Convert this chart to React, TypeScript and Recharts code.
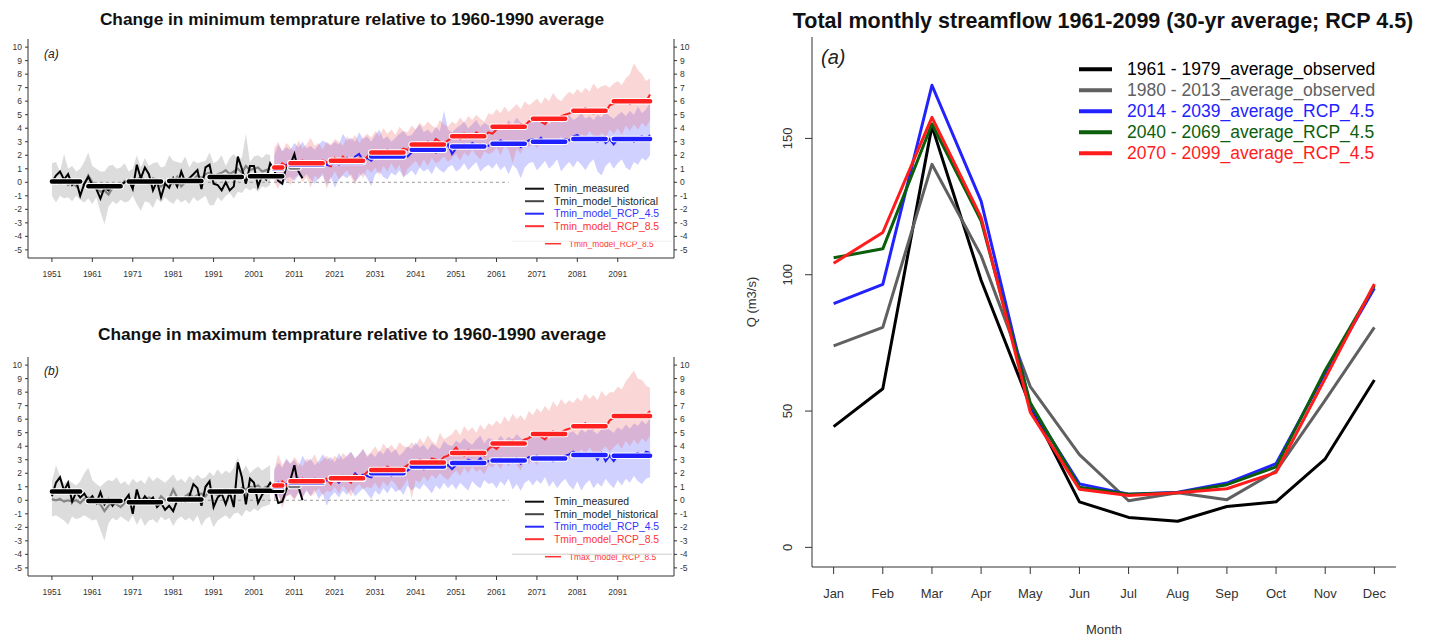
import React from 'react';
import { ComposedChart, LineChart, Line, Area, XAxis, YAxis, ReferenceLine } from 'recharts';

// ---------------- Temperature panels (data) ----------------
const FIRST_YEAR = 1951;
const LAST_YEAR = 2099;
const RCP_START = 2006;
const ZERO_LINE_END = 2064;
const YEAR_TICKS = [1951, 1961, 1971, 1981, 1991, 2001, 2011, 2021, 2031, 2041, 2051, 2061, 2071, 2081, 2091];
const TEMP_TICKS = [-5, -4, -3, -2, -1, 0, 1, 2, 3, 4, 5, 6, 7, 8, 9, 10];

const MEAS_SEG_START = [1951, 1960, 1970, 1980, 1990, 2000];
const MEAS_SEG_END = [1958, 1968, 1978, 1988, 1998, 2008];
const RECENT_SEG_START = [2010];
const RECENT_SEG_END = [2012];
const RCP_SEG_START = [2006, 2010, 2020, 2030, 2040, 2050, 2060, 2070, 2080, 2090];
const RCP_SEG_END = [2008, 2018, 2028, 2038, 2048, 2058, 2068, 2078, 2088, 2099];

// Tmin
const tminMeasured = [
  0.0, 0.5, 0.8, 0.2, 0.6, -0.2, 0.1, -1.0, -0.1, 0.4,
  -0.2, -0.5, -1.2, -0.4, -0.6, -0.2, -0.3, -0.2, 0.0, 0.2,
  -0.5, 1.3, 0.3, 1.1, 0.6, -0.6, 0.1, -1.1, -0.1, -0.4,
  0.3, -0.3, 0.8, 0.0, 0.3, 0.6, 0.9, -0.5, 1.1, 1.3,
  -0.1, -0.2, -0.6, 0.0, -0.6, -0.3, 1.9, 1.0, -0.1, 1.2,
  1.2, -0.3, 0.5, 0.2, 1.4, 0.9, 0.1, -0.1, 1.2, 1.3,
  2.1, 0.8, 0.3,
];
const tminHist = [
  0.0, 0.1, -0.1, 0.2, -0.2, 0.0, -0.3, 0.1, -0.2, 0.5,
  0.0, -0.4, -0.7, -0.6, -0.9, -0.4, -0.2, -0.3, 0.1, 0.0,
  -0.3, 0.2, 0.4, 0.1, -0.1, 0.3, 0.2, -0.3, 0.0, 0.2,
  -0.1, 0.4, -0.3, 0.0, 0.3, 0.2, 0.5, 0.3, 0.6, 0.7,
  0.4, 0.6, 0.7, 0.9, 0.6, 0.8, 1.0, 0.7, 1.2, 0.9,
  1.0, 1.1, 0.8, 0.9, 1.0,
];
const tminHistHi = [
  1.4, 1.5, 0.8, 2.1, 1.0, 1.2, 0.8, 1.0, 1.5, 2.2,
  1.2, 1.0, 0.8, 0.8, 1.2, 1.3, 1.0, 1.1, 1.4, 0.8,
  1.0, 2.0, 1.1, 1.8, 1.2, 1.4, 1.5, 1.1, 1.2, 2.0,
  1.6, 1.5, 1.4, 1.9, 1.1, 1.6, 1.4, 1.5, 1.6, 2.2,
  1.4, 1.6, 2.0, 1.2, 1.8, 2.1, 1.7, 1.8, 3.6, 1.5,
  1.9, 2.0, 1.8, 2.1, 2.0,
];
const tminHistLo = [
  -1.0, -1.5, -1.0, -1.2, -1.1, -1.4, -1.0, -1.3, -1.5, -1.2,
  -1.6, -1.1, -2.2, -3.1, -1.8, -1.4, -1.6, -1.3, -1.5, -1.4,
  -1.0, -1.6, -2.1, -1.4, -1.5, -1.9, -1.2, -1.5, -1.1, -1.4,
  -1.6, -1.2, -1.5, -1.3, -1.6, -1.1, -1.4, -1.2, -1.0, -1.7,
  -1.7, -1.1, -1.4, -1.0, -0.8, -1.2, -0.7, -0.8, -0.4, -0.6,
  -0.4, -0.7, -0.3, -0.4, -0.2,
];
const tmin45 = [
  0.9, 1.2, 1.0, 1.3,
  1.1, 1.4, 1.0, 1.5, 1.3, 1.4, 1.2, 1.3, 1.5, 1.3,
  1.2, 1.6, 1.3, 1.5, 1.8, 1.4, 1.9, 2.1, 1.6, 1.8,
  1.6, 1.9, 1.8, 2.1, 1.9, 2.0, 1.8, 2.2, 2.0, 1.9,
  2.2, 2.5, 2.3, 2.6, 2.4, 2.5, 2.2, 2.6, 2.5, 2.8,
  2.1, 2.5, 2.7, 2.8, 2.6, 2.9, 2.7, 2.8, 2.6, 2.7,
  2.9, 2.8, 3.1, 2.9, 2.8, 3.0, 2.9, 2.6, 2.9, 3.1,
  3.2, 3.0, 3.3, 2.9, 3.0, 3.1, 2.9, 3.0, 3.2, 3.1,
  3.4, 3.5, 3.2, 3.3, 3.1, 3.2, 3.0, 3.3, 2.9, 3.2,
  2.8, 3.2, 3.3, 3.1, 3.2, 3.0, 3.3, 3.4, 3.2, 3.5,
];
const tmin45Hi = [
  2.0, 2.8, 2.3, 2.6,
  2.4, 2.9, 2.6, 3.0, 2.5, 2.7, 2.4, 2.8, 3.1, 2.9,
  2.7, 3.0, 2.8, 3.6, 3.1, 3.3, 3.0, 3.7, 3.2, 3.4,
  3.0, 3.5, 3.9, 3.2, 3.4, 3.0, 3.3, 3.6, 3.8, 3.4,
  3.5, 3.9, 4.3, 3.7, 3.9, 3.6, 4.1, 3.8, 5.3, 3.9,
  3.7, 4.0, 4.2, 4.5, 4.0, 4.3, 4.6, 4.1, 4.4, 4.2,
  4.3, 4.0, 4.4, 4.1, 4.6, 4.3, 4.8, 4.4, 4.2, 4.5,
  4.4, 4.7, 4.5, 4.8, 4.3, 4.6, 4.9, 4.4, 4.7, 5.0,
  4.6, 4.8, 5.1, 4.7, 4.9, 4.6, 5.0, 4.8, 5.2, 4.9,
  4.7, 5.0, 5.2, 4.9, 5.3, 5.0, 5.6, 5.1, 5.4, 5.9,
];
const tmin45Lo = [
  0.2, 0.0, -0.3, 0.3,
  0.4, 0.1, 0.5, 0.3, 0.6, 0.2, -0.1, 0.3, 0.5, -0.2,
  0.4, -0.4, 0.2, 0.5, 0.3, 0.6, 0.0, 0.4, 0.7, 0.3,
  -0.3, 0.6, 0.8, 0.4, 0.2, 0.7, 0.5, 0.9, 0.4, 0.6,
  0.9, 0.5, 1.1, 0.8, 1.0, 0.6, 1.2, 0.9, 0.7, 1.1,
  1.3, 0.8, 1.0, 1.4, 0.9, 1.2, 1.5, 0.8, 1.1, 1.3,
  1.0, 1.4, 0.9, 1.2, 0.6, 1.3, 1.0, 0.3, 1.1, 1.4,
  1.5, 0.9, 1.2, 1.6, 1.0, 1.3, 1.7, 0.8, 1.2, 1.5,
  1.1, 1.6, 1.3, 0.9, 1.4, 1.7, 0.8, 0.5, 1.2, 1.5,
  1.0, 1.4, 1.7, 1.1, 0.9, 1.5, 1.3, 1.8, 1.6, 2.0,
];
const tmin85 = [
  1.3, 1.0, 1.4, 1.2,
  1.3, 1.5, 1.2, 1.6, 1.4, 1.3, 1.5, 1.4, 1.6, 1.5,
  1.2, 1.8, 1.5, 1.9, 1.6, 1.7, 1.4, 1.8, 1.6, 1.9,
  2.2, 2.0, 2.3, 2.1, 2.4, 2.2, 2.1, 2.3, 2.5, 2.4,
  2.7, 2.9, 2.8, 2.6, 3.0, 2.7, 3.2, 3.0, 2.9, 3.1,
  3.3, 3.5, 3.2, 3.6, 3.4, 3.3, 3.7, 3.5, 3.4, 3.7,
  3.6, 3.9, 4.2, 4.0, 4.3, 4.1, 4.0, 4.3, 4.2, 4.5,
  4.6, 4.8, 4.5, 4.3, 4.7, 4.8, 4.6, 4.9, 5.0, 5.1,
  5.2, 5.4, 5.3, 5.5, 5.2, 5.1, 5.4, 5.3, 5.2, 5.7,
  5.8, 6.0, 5.9, 6.1, 5.8, 6.0, 5.9, 6.1, 6.0, 6.5,
];
const tmin85Hi = [
  2.5, 3.0, 2.3, 2.9,
  2.6, 2.3, 3.1, 2.5, 2.8, 3.3, 2.7, 2.9, 2.4, 3.0,
  2.8, 3.2, 3.0, 2.7, 3.4, 3.1, 3.5, 2.9, 3.3, 3.6,
  3.3, 3.8, 3.4, 4.0, 3.6, 3.9, 3.5, 4.1, 3.8, 3.7,
  4.2, 3.9, 4.4, 4.1, 4.5, 4.2, 4.0, 4.6, 4.3, 4.1,
  4.5, 4.3, 4.8, 4.4, 4.9, 4.6, 5.0, 4.7, 4.5, 5.1,
  5.0, 5.4, 5.1, 5.6, 5.2, 5.5, 5.8, 5.4, 6.0, 5.7,
  5.9, 6.2, 5.8, 6.3, 6.0, 6.6, 6.2, 6.0, 6.4, 6.7,
  6.5, 6.9, 6.6, 7.0, 6.7, 7.3, 6.9, 7.1, 7.2, 7.0,
  7.3, 7.5, 7.2, 7.7, 8.0, 8.8, 8.3, 8.0, 7.5, 7.7,
];
const tmin85Lo = [
  0.0, -0.5, 0.4, 0.1,
  -0.2, 0.3, 0.6, 0.0, 0.4, -0.4, 0.5, 0.2, 0.7, -0.5,
  0.3, 0.8, 0.2, 0.6, 0.9, 0.4, -0.2, 0.7, 0.3, 1.0,
  0.7, 1.1, 0.5, 1.2, 0.8, 1.4, 0.9, 1.3, 0.3, 1.0,
  1.3, 1.6, 1.1, 1.7, 1.2, 1.8, 1.4, 1.6, 1.9, 1.5,
  1.8, 2.1, 1.6, 2.2, 1.9, 2.4, 2.0, 1.7, 2.3, 2.1,
  2.2, 2.6, 2.0, 2.7, 2.4, 1.4, 2.5, 2.1, 2.8, 2.6,
  2.9, 2.5, 3.1, 2.7, 3.3, 2.8, 3.0, 3.4, 2.6, 3.2,
  3.5, 3.1, 3.6, 3.2, 3.8, 3.4, 3.0, 3.7, 3.3, 3.9,
  3.6, 4.0, 3.5, 4.2, 3.8, 4.3, 3.9, 4.4, 4.1, 4.6,
];
const tminMeasAvg = [0.05, -0.3, 0.05, 0.1, 0.4, 0.45];
const tminRecentAvg = [1.1];
const tmin45Avg = [1.0, 1.3, 1.5, 1.9, 2.4, 2.65, 2.85, 3.0, 3.2, 3.2];
const tmin85Avg = [1.1, 1.4, 1.6, 2.2, 2.8, 3.4, 4.1, 4.7, 5.3, 6.0];

// Tmax
const tmaxMeasured = [
  0.3, 1.3, 1.7, 0.7, 1.3, -0.1, 0.6, 0.2, 0.5, 0.0,
  0.3, -0.2, 0.6, -0.3, 0.1, -0.4, 0.0, -0.2, 0.0, 0.4,
  -1.0, 0.8, -0.2, 0.3, -0.1, 0.2, -0.5, -0.2, -0.7, -0.4,
  -0.8, 0.0, 0.1, -0.1, 0.3, 1.2, 0.9, -0.4, 1.0, 1.4,
  -0.5, 0.2, 0.5, -0.3, 0.6, -0.5, 2.8, 1.7, -0.3, 1.6,
  1.3, -0.2, 0.4, 0.8, 1.3, 0.9, -0.2, -0.1, 0.8, 1.5,
  2.6, 1.0, 0.0,
];
const tmaxHist = [
  0.1, 0.0, 0.1, -0.1, 0.0, -0.1, 0.0, -0.2, 0.1, 0.2,
  -0.1, -0.2, -0.3, -0.8, -0.4, -0.1, -0.3, -0.5, -0.2, -0.1,
  0.0, -0.2, 0.1, -0.1, 0.2, 0.1, -0.2, 0.3, 0.0, 0.1,
  0.8, 0.2, -0.1, 0.3, 0.5, 0.2, 0.4, 0.5, 0.3, 0.7,
  0.5, 0.4, 0.6, 0.8, 0.6, 0.7, 0.5, 0.9, 0.8, 1.0,
  0.9, 1.1, 0.8, 1.0, 0.9,
];
const tmaxHistHi = [
  1.4, 2.6, 1.8, 1.2, 1.5, 1.3, 1.1, 1.4, 2.0, 2.4,
  1.5, 1.2, 1.0, 1.3, 1.5, 1.4, 1.7, 1.2, 1.4, 1.1,
  1.6, 1.3, 1.5, 1.2, 1.8, 1.4, 1.7, 1.5, 1.3, 1.6,
  1.9, 1.4, 1.6, 1.3, 1.8, 1.5, 1.9, 1.6, 1.7, 2.1,
  1.8, 2.3, 1.9, 2.2, 2.0, 2.4, 3.2, 2.1, 2.6, 2.0,
  2.3, 2.5, 2.2, 2.4, 2.6,
];
const tmaxHistLo = [
  -1.2, -1.1, -1.3, -1.5, -1.8, -1.2, -1.4, -1.3, -1.1, -1.3,
  -1.5, -1.4, -2.2, -3.0, -1.7, -1.3, -1.5, -1.2, -1.4, -1.6,
  -1.1, -1.8, -1.3, -1.9, -1.5, -1.4, -1.7, -1.2, -1.5, -1.3,
  -1.9, -1.4, -1.2, -1.5, -1.3, -1.6, -1.1, -1.9, -1.4, -1.2,
  -2.0, -1.5, -1.3, -1.1, -1.4, -1.0, -0.9, -1.2, -0.7, -0.9,
  -0.6, -0.8, -0.5, -0.4, -0.3,
];
const tmax45 = [
  1.0, 1.3, 0.9, 1.2,
  1.1, 1.4, 1.6, 1.2, 1.5, 1.3, 1.2, 1.4, 1.3, 1.5,
  1.4, 1.6, 1.3, 1.7, 1.8, 1.5, 2.0, 1.7, 1.9, 1.8,
  1.7, 2.0, 2.1, 1.9, 2.2, 1.8, 2.0, 2.3, 2.1, 2.2,
  2.4, 2.6, 2.5, 2.3, 2.7, 2.5, 2.6, 2.8, 2.4, 2.6,
  2.3, 2.6, 2.8, 2.7, 3.0, 2.9, 2.8, 3.1, 2.7, 2.9,
  3.0, 2.8, 3.1, 2.9, 3.0, 2.8, 3.1, 2.7, 3.0, 3.2,
  3.1, 3.3, 3.0, 3.2, 3.1, 2.9, 3.2, 3.0, 3.3, 3.4,
  3.6, 3.4, 3.3, 3.5, 3.2, 3.4, 3.0, 3.5, 2.9, 3.3,
  2.9, 3.3, 3.4, 3.2, 3.3, 3.4, 3.5, 3.2, 3.6, 3.5,
];
const tmax45Hi = [
  2.2, 2.8, 2.4, 3.1,
  2.7, 3.0, 2.5, 3.3, 2.8, 3.1, 2.6, 2.9, 3.4, 3.0,
  3.2, 2.8, 3.5, 3.0, 3.3, 3.6, 3.1, 3.4, 3.8, 3.2,
  3.5, 3.2, 3.7, 3.4, 3.9, 3.5, 3.8, 3.3, 3.6, 4.0,
  3.8, 4.3, 3.9, 4.1, 3.7, 4.2, 4.0, 3.8, 4.4, 4.1,
  4.0, 4.4, 4.2, 4.6, 4.3, 4.1, 4.5, 4.8, 4.2, 4.6,
  4.5, 4.3, 4.8, 4.4, 4.7, 4.5, 4.9, 4.6, 4.4, 4.8,
  4.6, 5.0, 4.7, 4.9, 4.5, 5.1, 4.8, 5.2, 4.9, 5.0,
  5.1, 4.8, 5.3, 5.0, 5.4, 5.1, 4.9, 5.3, 5.5, 5.2,
  5.0, 5.4, 5.2, 5.6, 5.3, 5.7, 5.5, 5.9, 5.6, 6.1,
];
const tmax45Lo = [
  0.0, 0.4, -0.2, 0.3,
  0.5, 0.1, 0.6, 0.2, 0.7, 0.3, 0.8, 0.1, 0.5, -0.4,
  0.3, 0.6, 0.2, 0.7, 0.4, 0.8, 0.3, 0.6, 0.9, 0.5,
  0.1, 0.7, 0.4, 0.9, 0.5, 1.0, 0.6, 0.8, 0.4, 1.1,
  0.7, 1.0, 0.8, 1.2, 0.9, 0.5, 1.1, 0.8, 1.3, 0.9,
  1.2, 0.8, 1.3, 1.0, 0.7, 1.4, 1.1, 0.9, 1.5, 1.2,
  1.3, 0.9, 1.4, 1.1, 1.6, 0.8, 1.2, 0.7, 1.3, 1.5,
  1.1, 1.5, 1.2, 1.7, 1.0, 1.4, 0.9, 1.3, 1.6, 1.1,
  0.8, 1.4, 0.7, 1.2, 1.5, 0.9, 1.3, 1.0, 1.6, 1.2,
  0.9, 1.5, 1.1, 1.6, 1.3, 1.8, 1.4, 1.2, 1.6, 1.7,
];
const tmax85 = [
  1.2, 0.9, 1.4, 1.1,
  1.3, 1.5, 1.2, 1.6, 1.4, 1.3, 1.6, 1.5, 1.4, 1.6,
  1.2, 1.7, 1.4, 1.8, 1.5, 1.3, 1.9, 1.6, 1.8, 2.1,
  2.3, 2.1, 2.4, 2.2, 2.5, 2.3, 2.1, 2.2, 2.4, 2.6,
  2.8, 2.6, 3.0, 2.9, 2.7, 3.1, 3.0, 2.9, 3.2, 3.3,
  3.6, 3.9, 3.5, 3.3, 3.7, 3.4, 3.6, 3.5, 3.3, 3.8,
  4.0, 3.8, 4.1, 4.3, 4.2, 4.4, 4.1, 4.3, 4.5, 4.6,
  4.8, 5.0, 4.7, 4.5, 4.9, 5.1, 4.8, 5.0, 5.2, 5.3,
  5.4, 5.6, 5.5, 5.7, 5.4, 5.3, 5.6, 5.5, 5.4, 5.9,
  6.1, 6.3, 6.2, 6.4, 6.1, 6.3, 6.2, 6.4, 6.3, 6.6,
];
const tmax85Hi = [
  2.3, 3.4, 2.6, 3.0,
  2.7, 3.2, 2.8, 2.5, 3.1, 2.9, 3.4, 2.7, 3.0, 3.3,
  2.9, 3.3, 3.0, 3.5, 3.2, 3.6, 3.1, 3.4, 3.8, 3.3,
  3.6, 4.0, 3.5, 4.2, 3.8, 4.1, 3.7, 4.3, 4.0, 3.9,
  4.3, 4.0, 4.6, 4.2, 4.8, 4.4, 4.1, 5.0, 4.5, 4.7,
  4.9, 5.3, 4.8, 5.5, 5.1, 5.4, 5.0, 5.6, 5.2, 5.7,
  5.5, 5.9, 5.6, 6.2, 5.8, 6.4, 6.0, 6.3, 5.9, 6.6,
  6.3, 6.8, 6.5, 7.0, 6.6, 7.3, 6.9, 7.5, 7.1, 7.4,
  7.2, 7.6, 7.3, 7.9, 7.5, 7.8, 7.4, 8.1, 7.7, 8.0,
  8.0, 8.4, 8.2, 8.8, 9.2, 9.6, 9.0, 8.9, 8.5, 8.3,
];
const tmax85Lo = [
  -0.1, 0.5, -0.6, 0.3,
  0.4, 0.0, 0.6, 0.2, 0.8, 0.3, 0.5, 0.9, 0.4, 0.7,
  0.6, 1.0, 0.5, 1.1, 0.7, 0.3, 0.9, 1.2, 0.8, 1.0,
  0.9, 1.3, 0.8, 1.4, 1.0, 1.5, 1.2, 0.7, 1.1, 1.6,
  0.1, 1.5, 1.3, 1.8, 1.4, 1.9, 1.6, 2.0, 1.7, 1.5,
  1.9, 2.2, 1.8, 2.4, 2.0, 2.5, 2.1, 2.3, 1.9, 2.6,
  2.4, 2.8, 2.3, 2.9, 2.5, 3.0, 2.6, 2.2, 2.9, 2.7,
  3.0, 2.6, 3.2, 2.8, 3.3, 2.9, 3.4, 3.1, 3.5, 3.0,
  3.6, 3.3, 3.8, 3.4, 3.9, 3.5, 3.2, 3.7, 4.0, 3.6,
  3.9, 4.2, 3.8, 4.4, 4.0, 4.5, 4.1, 4.6, 4.3, 4.8,
];
const tmaxMeasAvg = [0.65, -0.05, -0.15, 0.05, 0.65, 0.7];
const tmaxRecentAvg = [1.05];
const tmax45Avg = [1.0, 1.3, 1.6, 2.0, 2.5, 2.75, 2.95, 3.1, 3.35, 3.3];
const tmax85Avg = [1.1, 1.4, 1.64, 2.25, 2.8, 3.5, 4.2, 4.9, 5.47, 6.24];

// ---------------- Streamflow panel (data) ----------------
const MONTHS = ['Jan', 'Feb', 'Mar', 'Apr', 'May', 'Jun', 'Jul', 'Aug', 'Sep', 'Oct', 'Nov', 'Dec'];
const FLOW_TICKS = [0, 50, 100, 150];
const FLOW_YLIM = [0, 180];
const flowObs6179 = [44.3, 58.2, 154.5, 98, 52, 16.7, 11, 9.6, 15, 16.7, 32.5, 61.4];
const flowObs8013 = [73.9, 80.7, 140.5, 107, 59, 34, 17.1, 20, 17.5, 28, 54, 80.7];
const flowRcp1439 = [89.4, 96.5, 169.5, 127, 52, 23.3, 19.5, 20.2, 23.6, 30.7, 64, 95];
const flowRcp4069 = [106.2, 109.5, 155.3, 119.8, 53, 22.1, 19.5, 20, 23, 29.5, 65, 96];
const flowRcp7099 = [104.2, 115.5, 157.7, 121, 49.6, 21.3, 19, 20, 21.5, 27.5, 62, 96.6];

// ---------------- helpers ----------------
const FONT = 'Liberation Sans, Arial, Helvetica, sans-serif';
const pad4 = (lo: number, hi: number) => [lo - 0.04 * (hi - lo), hi + 0.04 * (hi - lo)];
const YEAR_DOMAIN = pad4(FIRST_YEAR, LAST_YEAR);
const TEMP_DOMAIN = pad4(TEMP_TICKS[0], TEMP_TICKS[TEMP_TICKS.length - 1]);
const MONTH_DOMAIN = pad4(1, MONTHS.length);
const FLOW_DOMAIN = pad4(FLOW_YLIM[0], FLOW_YLIM[1]);

function segVal(year: number, starts: number[], ends: number[], vals: number[]) {
  for (let k = 0; k < starts.length; k++) if (year >= starts[k] && year <= ends[k]) return vals[k];
  return undefined;
}

type P = {
  meas: number[]; hist: number[]; histHi: number[]; histLo: number[];
  r45: number[]; r45Hi: number[]; r45Lo: number[]; r85: number[]; r85Hi: number[]; r85Lo: number[];
  measAvg: number[]; recentAvg: number[]; avg45: number[]; avg85: number[];
};

function buildRows(p: P) {
  const rows: any[] = [];
  for (let y = FIRST_YEAR; y <= LAST_YEAR; y++) {
    const i = y - FIRST_YEAR;
    const j = y - RCP_START;
    const r: any = { year: y };
    if (i < p.meas.length) r.meas = p.meas[i];
    if (i < p.hist.length) {
      r.hist = p.hist[i];
      r.histBand = [p.histLo[i], p.histHi[i]];
    }
    if (j >= 0 && j < p.r45.length) {
      r.r45 = p.r45[j];
      r.band45 = [p.r45Lo[j], p.r45Hi[j]];
      r.r85 = p.r85[j];
      r.band85 = [p.r85Lo[j], p.r85Hi[j]];
    }
    r.measAvg = segVal(y, MEAS_SEG_START, MEAS_SEG_END, p.measAvg);
    r.recentAvg = segVal(y, RECENT_SEG_START, RECENT_SEG_END, p.recentAvg);
    r.avg45 = segVal(y, RCP_SEG_START, RCP_SEG_END, p.avg45);
    r.avg85 = segVal(y, RCP_SEG_START, RCP_SEG_END, p.avg85);
    rows.push(r);
  }
  return rows;
}

const tminRows = buildRows({
  meas: tminMeasured, hist: tminHist, histHi: tminHistHi, histLo: tminHistLo,
  r45: tmin45, r45Hi: tmin45Hi, r45Lo: tmin45Lo, r85: tmin85, r85Hi: tmin85Hi, r85Lo: tmin85Lo,
  measAvg: tminMeasAvg, recentAvg: tminRecentAvg, avg45: tmin45Avg, avg85: tmin85Avg,
});
const tmaxRows = buildRows({
  meas: tmaxMeasured, hist: tmaxHist, histHi: tmaxHistHi, histLo: tmaxHistLo,
  r45: tmax45, r45Hi: tmax45Hi, r45Lo: tmax45Lo, r85: tmax85, r85Hi: tmax85Hi, r85Lo: tmax85Lo,
  measAvg: tmaxMeasAvg, recentAvg: tmaxRecentAvg, avg45: tmax45Avg, avg85: tmax85Avg,
});

const flowRows = MONTHS.map((m, i) => ({
  month: i + 1,
  obs6179: flowObs6179[i],
  obs8013: flowObs8013[i],
  rcp1439: flowRcp1439[i],
  rcp4069: flowRcp4069[i],
  rcp7099: flowRcp7099[i],
}));

const AX = '#333';
const tickStyleSmall = { fontSize: 8.5, fill: '#333', fontFamily: FONT };

function TempPanel({ rows, top }: { rows: any[]; top: number }) {
  const seg = (key: string, color: string) => [
    <Line key={key + 'w'} dataKey={key} stroke="#ffffff" strokeWidth={6.5} dot={false} activeDot={false}
      isAnimationActive={false} connectNulls={false} strokeLinecap="round" />,
    <Line key={key + 'c'} dataKey={key} stroke={color} strokeWidth={4.5} dot={false} activeDot={false}
      isAnimationActive={false} connectNulls={false} strokeLinecap="round" />,
  ];
  return (
    <div style={{ position: 'absolute', left: 0, top, width: 710, height: 310 }}>
      <ComposedChart width={710} height={310} data={rows} margin={{ top: 39, right: 0, bottom: 22, left: 0 }}>
        <XAxis dataKey="year" type="number" domain={YEAR_DOMAIN} ticks={YEAR_TICKS} interval={0}
          allowDataOverflow height={30} tickSize={4} tickMargin={9} stroke={AX} tick={tickStyleSmall} />
        <XAxis xAxisId="top" orientation="top" type="number" domain={YEAR_DOMAIN} allowDataOverflow
          height={0} tick={false} tickLine={false} stroke={AX} />
        <YAxis type="number" domain={TEMP_DOMAIN} ticks={TEMP_TICKS} interval={0} allowDataOverflow
          width={28} tickSize={3} tickMargin={3} stroke={AX} tick={tickStyleSmall} />
        <YAxis yAxisId="right" orientation="right" type="number" domain={TEMP_DOMAIN} ticks={TEMP_TICKS}
          interval={0} allowDataOverflow width={36} tickSize={3} tickMargin={3} stroke={AX} tick={tickStyleSmall} />
        <Area dataKey="histBand" stroke="none" fill="#d6d6d6" fillOpacity={0.85} dot={false} activeDot={false}
          isAnimationActive={false} connectNulls={false} />
        <Area dataKey="band45" stroke="none" fill="#5a5aff" fillOpacity={0.28} dot={false} activeDot={false}
          isAnimationActive={false} connectNulls={false} />
        <Area dataKey="band85" stroke="none" fill="#f05a5a" fillOpacity={0.25} dot={false} activeDot={false}
          isAnimationActive={false} connectNulls={false} />
        <ReferenceLine yAxisId="right" segment={[{ x: FIRST_YEAR, y: 0 }, { x: ZERO_LINE_END, y: 0 }]}
          stroke="#9a9a9a" strokeDasharray="3 3" strokeWidth={1} />
        <Line dataKey="hist" stroke="#858585" strokeWidth={2.2} dot={false} activeDot={false} isAnimationActive={false} />
        <Line dataKey="meas" stroke="#000000" strokeWidth={2} dot={false} activeDot={false} isAnimationActive={false} />
        <Line dataKey="r45" stroke="#2020ff" strokeWidth={2} dot={false} activeDot={false} isAnimationActive={false} />
        <Line dataKey="r85" stroke="#ff2020" strokeWidth={2} dot={false} activeDot={false} isAnimationActive={false} />
        {seg('measAvg', '#000000')}
        {seg('recentAvg', '#7a7a7a')}
        {seg('avg45', '#2020ff')}
        {seg('avg85', '#ff2020')}
      </ComposedChart>
    </div>
  );
}

const FlowYTick = (props: any) => {
  const { x, y, payload } = props;
  return (
    <text x={x} y={y} transform={`rotate(-90 ${x} ${y})`} textAnchor="middle" fontSize={13}
      fill="#333" fontFamily={FONT}>{payload.value}</text>
  );
};

function FlowPanel() {
  const line = (key: string, color: string) => (
    <Line key={key} dataKey={key} stroke={color} strokeWidth={3} dot={false} activeDot={false}
      isAnimationActive={false} strokeLinejoin="round" />
  );
  return (
    <div style={{ position: 'absolute', left: 720, top: 0, width: 717, height: 637 }}>
      <LineChart width={717} height={637} data={flowRows} margin={{ top: 37, right: 41, bottom: 0, left: 0 }}>
        <XAxis dataKey="month" type="number" domain={MONTH_DOMAIN} ticks={MONTHS.map((_, i) => i + 1)}
          interval={0} allowDataOverflow height={70} tickSize={7} tickMargin={15} stroke={AX}
          tickFormatter={(v: number) => MONTHS[v - 1]} tick={{ fontSize: 13, fill: '#333', fontFamily: FONT }} />
        <XAxis xAxisId="top" orientation="top" type="number" domain={MONTH_DOMAIN} allowDataOverflow
          height={0} tick={false} tickLine={false} stroke={AX} />
        <YAxis type="number" domain={FLOW_DOMAIN} ticks={FLOW_TICKS} interval={0} allowDataOverflow width={92}
          tickSize={7} tickMargin={13} stroke={AX} tick={<FlowYTick />} />
        <YAxis yAxisId="r" orientation="right" type="number" domain={FLOW_DOMAIN} allowDataOverflow width={0}
          tick={false} tickLine={false} stroke={AX} />
        {line('obs6179', '#000000')}
        {line('obs8013', '#606060')}
        {line('rcp1439', '#2222ff')}
        {line('rcp4069', '#0b5e0b')}
        {line('rcp7099', '#ff1c1c')}
      </LineChart>
    </div>
  );
}

function TempLegend({ y0, lastLabel, sepColor }: { y0: number; lastLabel: string; sepColor: string }) {
  const rows = [
    { t: 'Tmin_measured', c: '#222', lc: '#111' },
    { t: 'Tmin_model_historical', c: '#222', lc: '#444' },
    { t: 'Tmin_model_RCP_4.5', c: '#3333ff', lc: '#2a2aff' },
    { t: 'Tmin_model_RCP_8.5', c: '#ff3333', lc: '#ff3030' },
  ];
  return (
    <g fontFamily={FONT}>
      <line x1={545} x2={561} y1={y0 + 55} y2={y0 + 55} stroke="#ff3030" strokeWidth={1.5} />
      <text x={569} y={y0 + 55} fontSize={8.4} fill="#ff3333" dominantBaseline="central">{lastLabel}</text>
      <rect x={512} y={y0 - 8} width={160} height={60.5} fill="#ffffff" />
      <line x1={512} x2={672} y1={y0 + 52.5} y2={y0 + 52.5} stroke={sepColor} strokeWidth={1} />
      {rows.map((r, k) => (
        <g key={k}>
          <line x1={525} x2={544} y1={y0 + k * 12.5} y2={y0 + k * 12.5} stroke={r.lc} strokeWidth={2} />
          <text x={554} y={y0 + k * 12.5} fontSize={10.4} fill={r.c} dominantBaseline="central">{r.t}</text>
        </g>
      ))}
    </g>
  );
}

const FLOW_LEGEND = [
  { t: '1961 - 1979_average_observed', c: '#000000' },
  { t: '1980 - 2013_average_observed', c: '#606060' },
  { t: '2014 - 2039_average_RCP_4.5', c: '#2222ff' },
  { t: '2040 - 2069_average_RCP_4.5', c: '#0b5e0b' },
  { t: '2070 - 2099_average_RCP_4.5', c: '#ff1c1c' },
];

function Overlay() {
  return (
    <svg width={1437} height={637} style={{ position: 'absolute', left: 0, top: 0, pointerEvents: 'none' }}>
      <g fontFamily={FONT}>
        <text x={352} y={19} textAnchor="middle" dominantBaseline="central" fontSize={17.3} fontWeight="bold" fill="#111">
          Change in minimum temprature relative to 1960-1990 average
        </text>
        <text x={352} y={334} textAnchor="middle" dominantBaseline="central" fontSize={17.3} fontWeight="bold" fill="#111">
          Change in maximum temprature relative to 1960-1990 average
        </text>
        <text x={44} y={54} dominantBaseline="central" fontSize={12} fontStyle="italic" fill="#222">(a)</text>
        <text x={44} y={371} dominantBaseline="central" fontSize={12} fontStyle="italic" fill="#222">(b)</text>
        <TempLegend y0={188.7} lastLabel="Tmin_model_RCP_8.5" sepColor="#eeeeee" />
        <TempLegend y0={501.7} lastLabel="Tmax_model_RCP_8.5" sepColor="#cccccc" />

        <text x={1103} y={21} textAnchor="middle" dominantBaseline="central" fontSize={21.5} fontWeight="bold" fill="#111">
          Total monthly streamflow 1961-2099 (30-yr average; RCP 4.5)
        </text>
        <text x={821} y={57} dominantBaseline="central" fontSize={20} fontStyle="italic" fill="#222">(a)</text>
        <text x={1104} y={629} textAnchor="middle" dominantBaseline="central" fontSize={13} fill="#333">Month</text>
        <text x={751} y={302} textAnchor="middle" dominantBaseline="central" fontSize={13} fill="#333"
          transform="rotate(-90 751 302)">Q (m3/s)</text>
        {FLOW_LEGEND.map((r, k) => (
          <g key={k}>
            <line x1={1079} x2={1112} y1={69.3 + k * 21} y2={69.3 + k * 21} stroke={r.c} strokeWidth={4} />
            <text x={1127} y={69.3 + k * 21} fontSize={17.5} fill={r.c} dominantBaseline="central">{r.t}</text>
          </g>
        ))}
      </g>
    </svg>
  );
}

export default function App() {
  return (
    <div style={{ position: 'absolute', left: 0, top: 0, width: 1437, height: 637, background: '#fff', fontFamily: FONT }}>
      <TempPanel rows={tminRows} top={0} />
      <TempPanel rows={tmaxRows} top={318} />
      <FlowPanel />
      <Overlay />
    </div>
  );
}
